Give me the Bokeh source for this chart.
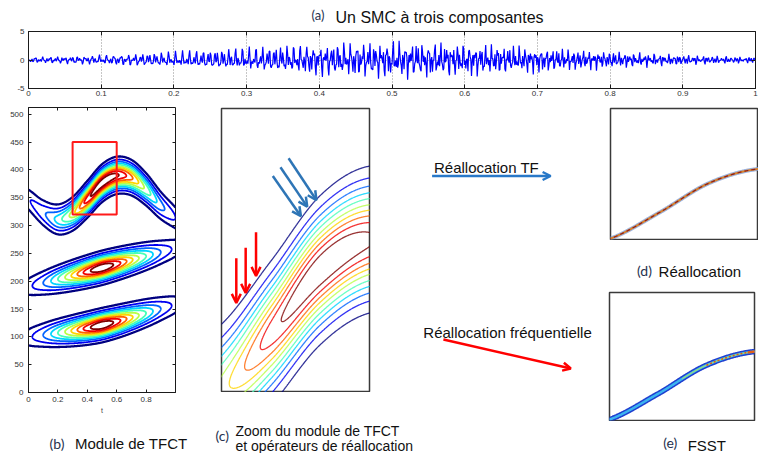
import numpy as np
import contourpy
from bokeh.plotting import figure
from bokeh.layouts import column, row
from bokeh.models import (Range1d, FixedTicker, NumeralTickFormatter, LinearAxis,
                          Arrow, OpenHead, ColumnDataSource, CustomJSTickFormatter)
from bokeh.core.properties import value
from bokeh.embed import file_html
from bokeh.resources import INLINE

# ------------------------------------------------------------------ data
# instantaneous frequency (Hz) of the three modes
grid_t    = [0.0, 0.1, 0.2, 0.3, 0.4, 0.5, 0.6, 0.7, 0.8, 0.9, 1.0]
ridge_top = [347, 323, 311, 321, 347, 376, 390, 386, 365, 336, 314]
chirp_t   = [0.0, 0.5, 1.0]
ridge_mid = [190, 224, 259]
ridge_low = [99, 121, 158]
amp_top   = [0.17, 0.25, 0.40, 0.60, 0.87, 1.00, 0.93, 0.75, 0.52, 0.31, 0.18]
amp_chirp = [0.15, 0.27, 0.45, 0.66, 0.87, 1.00, 0.87, 0.66, 0.45, 0.27, 0.15]
band_hz   = [22, 20, 20]
peak_amp  = 1.25
fs = 1024
levels = [0.09, 0.18, 0.27, 0.36, 0.45, 0.55, 0.64, 0.73, 0.82, 0.91]
level_colors = ["#000080", "#0000f1", "#0063ff", "#00d4ff", "#47ffb8",
                "#b8ff47", "#ffd400", "#ff6300", "#f10000", "#800000"]
zoom_box = [0.3, 0.6, 320, 450]          # t0, t1, f0, f1 (red box / panels c-e)
a_xticks = [0, 0.1, 0.2, 0.3, 0.4, 0.5, 0.6, 0.7, 0.8, 0.9, 1.0]
a_yticks = [-5, 0, 5]
b_xticks = [0, 0.2, 0.4, 0.6, 0.8]
b_yticks = [0, 50, 100, 150, 200, 250, 300, 350, 400, 450, 500]
# arrows drawn on panel (c): (t_start, f_start, t_end, f_end)
blue_arrows = [(0.404, 419.1, 0.461, 400.7),
               (0.4195, 423.1, 0.4738, 405.1),
               (0.436, 427.2, 0.4925, 408.0)]
red_arrows = [(0.330, 381.5, 0.330, 361.0),
              (0.349, 386.3, 0.349, 365.6),
              (0.370, 393.3, 0.370, 373.4)]

FONT = "Liberation Sans"
LBL_FONT = "Lato"
LBL_COLOR = "#26324f"
TXT = "#111111"


def smooth(xs, ys, xq):
    """Catmull-Rom curve through the read points."""
    xs = np.asarray(xs, float); ys = np.asarray(ys, float)
    xq = np.asarray(xq, float)
    h = xs[1] - xs[0]
    ext = np.concatenate([[2 * ys[0] - ys[1]], ys, [2 * ys[-1] - ys[-2]]])
    pos = np.clip((xq - xs[0]) / h, 0, len(xs) - 1 - 1e-9)
    i = np.floor(pos).astype(int)
    u = pos - i
    p0, p1, p2, p3 = ext[i], ext[i + 1], ext[i + 2], ext[i + 3]
    return 0.5 * (2 * p1 + (p2 - p0) * u + (2 * p0 - 5 * p1 + 4 * p2 - p3) * u ** 2
                  + (3 * p1 - p0 - 3 * p2 + p3) * u ** 3)


modes = [(grid_t, ridge_top, amp_top), (chirp_t, ridge_mid, amp_chirp),
         (chirp_t, ridge_low, amp_chirp)]

# signal of panel (a)
t_sig = np.arange(fs) / fs
sig = np.zeros_like(t_sig)
for rt, rf, amp in modes:
    f_inst = smooth(rt, rf, t_sig)
    a_inst = smooth(grid_t, amp, t_sig)
    sig += peak_amp * a_inst * np.cos(2 * np.pi * np.cumsum(f_inst) / fs)


def field(tg, fg):
    T, F = np.meshgrid(tg, fg)
    Z = np.zeros_like(T)
    for (rt, rf, amp), w in zip(modes, band_hz):
        Z += smooth(grid_t, amp, T) * np.exp(-((F - smooth(rt, rf, T)) / w) ** 2)
    return Z


def contour_source(tg, fg, widths):
    gen = contourpy.contour_generator(tg, fg, field(tg, fg))
    xs, ys, cs, ws = [], [], [], []
    for k, lev in enumerate(levels):
        for seg in gen.lines(lev):
            seg = np.asarray(seg)
            xs.append(seg[:, 0].tolist()); ys.append(seg[:, 1].tolist())
            cs.append(level_colors[k]); ws.append(widths[k])
    return ColumnDataSource(dict(xs=xs, ys=ys, c=cs, w=ws))


def base_fig(w, h, xr, yr, **kw):
    p = figure(width=w, height=h, x_range=Range1d(*xr), y_range=Range1d(*yr),
               output_backend="svg", toolbar_location=None, title=None, **kw)
    p.background_fill_color = "white"
    p.border_fill_color = "white"
    try:
        p.frame_align = False
    except Exception:
        pass
    return p


def bare_fig(w, h, xr, yr, **kw):
    p = base_fig(w, h, xr, yr, x_axis_location=None, y_axis_location=None, **kw)
    p.grid.grid_line_color = None
    return p


def canvas(w, h):
    p = bare_fig(w, h, (0, w), (h, 0), min_border=0)
    p.outline_line_color = None
    return p


def put(p, x, y, s, size, font=FONT, color=TXT):
    p.text(x=[x], y=[y], text=[s], text_font=value(font), text_font_size=f"{size}px",
           text_color=color, text_baseline="middle", text_align="left")


def matlab_axes(p, xt, yt, tick, sx, sy, xlabel=None):
    bottom = p.below[0]
    left = p.left[0]
    for ax, ticks, so in ((bottom, xt, sx), (left, yt, sy)):
        ax.ticker = FixedTicker(ticks=ticks)
        ax.formatter = NumeralTickFormatter(format="0.[0]")
        ax.major_tick_in = tick
        ax.major_tick_out = 0
        ax.minor_tick_in = 0
        ax.minor_tick_out = 0
        ax.major_tick_line_color = "#1a1a1a"
        ax.axis_line_color = "#1a1a1a"
        ax.major_label_text_font = FONT
        ax.major_label_text_font_size = "8px"
        ax.major_label_text_color = "#333333"
        ax.major_label_standoff = so
    if xlabel:
        bottom.axis_label = xlabel
        bottom.axis_label_text_font = FONT
        bottom.axis_label_text_font_size = "7px"
        bottom.axis_label_text_font_style = "normal"
        bottom.axis_label_standoff = 2
    for ticks, place in ((xt, "above"), (yt, "right")):
        ax = LinearAxis(ticker=FixedTicker(ticks=ticks), major_tick_in=tick, major_tick_out=0,
                        minor_tick_in=0, minor_tick_out=0, major_label_standoff=0,
                        major_label_text_font_size="1px", axis_line_color=None,
                        major_tick_line_color="#1a1a1a",
                        formatter=CustomJSTickFormatter(code="return ''"))
        p.add_layout(ax, place)
    p.outline_line_color = "#1a1a1a"
    p.outline_line_width = 1


# ------------------------------------------------------------------ (a)
capA = canvas(758, 28)
put(capA, 311, 14.0, "(a)", 13, LBL_FONT, LBL_COLOR)
put(capA, 335, 16.9, "Un SMC à trois composantes", 16)

figA = base_fig(758, 72, (0, 1), (-5, 5), min_border_left=28, min_border_right=3,
                min_border_top=3, min_border_bottom=12)
matlab_axes(figA, a_xticks, a_yticks, 4, 2, 4)
figA.xgrid.ticker = FixedTicker(ticks=a_xticks)
figA.ygrid.ticker = FixedTicker(ticks=a_yticks)
figA.grid.grid_line_color = "#8c8c8c"
figA.grid.grid_line_dash = "1 2"
figA.line(t_sig, sig, line_color="#0000ff", line_width=1.2)

# ------------------------------------------------------------------ (b)
figB = base_fig(200, 316, (0, 1), (0, 512), min_border_left=28, min_border_right=25,
                min_border_top=7, min_border_bottom=24)
matlab_axes(figB, b_xticks, b_yticks, 3, 4, 5, xlabel="t")
figB.grid.grid_line_color = None
srcB = contour_source(np.linspace(0, 1, 301), np.linspace(0, 512, 769),
                      [2.3] + [1.8] * 9)
figB.multi_line(xs="xs", ys="ys", line_color="c", line_width="w", source=srcB)
figB.quad(left=[zoom_box[0]], right=[zoom_box[1]], bottom=[zoom_box[2]], top=[zoom_box[3]],
          fill_color=None, line_color="#ff1a1a", line_width=2)

capB = canvas(200, 37)
put(capB, 49, 27.0, "(b)", 14, LBL_FONT, LBL_COLOR)
put(capB, 74.4, 27.3, "Module de TFCT", 15)

# ------------------------------------------------------------------ (c)
figC = bare_fig(218, 292, (zoom_box[0], zoom_box[1]), (zoom_box[2], zoom_box[3]),
                min_border_left=21, min_border_right=49, min_border_top=8, min_border_bottom=0)
figC.outline_line_color = "#3a3a3a"
figC.outline_line_width = 1.5
srcC = contour_source(np.linspace(0.28, 0.62, 341), np.linspace(305, 465, 321), [1.3] * 10)
figC.multi_line(xs="xs", ys="ys", line_color="c", line_width="w", line_alpha=0.8, source=srcC)
for (t0, f0, t1, f1), col in [(a, "#2e75b6") for a in blue_arrows] + [(a, "#ff0000") for a in red_arrows]:
    figC.add_layout(Arrow(end=OpenHead(size=9, line_color=col, line_width=2.5),
                          x_start=t0, y_start=f0, x_end=t1, y_end=f1,
                          line_color=col, line_width=2.5))

capC = canvas(218, 61)
put(capC, 15, 43.0, "(c)", 14, LBL_FONT, LBL_COLOR)
put(capC, 35, 38.3, "Zoom du module de TFCT", 14)
put(capC, 35, 53.3, "et opérateurs de réallocation", 14)

# ------------------------------------------------------------------ middle arrows
mid = canvas(182, 353)
put(mid, 15.5, 67.4, "Réallocation TF", 15)
mid.add_layout(Arrow(end=OpenHead(size=8, line_color="#2878c8", line_width=2.5),
                     x_start=13.6, y_start=75.5, x_end=132.1, y_end=75.5,
                     line_color="#2878c8", line_width=2.5))
put(mid, 4.8, 231.6, "Réallocation fréquentielle", 15)
mid.add_layout(Arrow(end=OpenHead(size=8, line_color="#ff0000", line_width=2.5),
                     x_start=24.9, y_start=239.0, x_end=152.3, y_end=268.0,
                     line_color="#ff0000", line_width=2.5))

# ------------------------------------------------------------------ (d) and (e)
t_r = np.linspace(0.28, 0.62, 240)
f_r = smooth(grid_t, ridge_top, t_r)

figD = bare_fig(158, 140, (zoom_box[0], zoom_box[1]), (zoom_box[2], zoom_box[3]),
                min_border_left=10, min_border_right=0, min_border_top=8, min_border_bottom=1)
figD.outline_line_color = "#3a3a3a"
figD.outline_line_width = 1.5
figD.line(t_r, f_r, line_color="#7f9fd8", line_width=4, line_alpha=0.8)
figD.line(t_r, f_r, line_color="#d9822b", line_width=2)
figD.line(t_r, f_r, line_color="#8b1e1e", line_width=1.2, line_dash="4 3")

capD = canvas(158, 50)
put(capD, 36.5, 29.5, "(d)", 14, LBL_FONT, LBL_COLOR)
put(capD, 58.1, 31.4, "Réallocation", 15)

figE = bare_fig(158, 131, (zoom_box[0], zoom_box[1]), (zoom_box[2], zoom_box[3]),
                min_border_left=9, min_border_right=4, min_border_top=2, min_border_bottom=1)
figE.outline_line_color = "#3a3a3a"
figE.outline_line_width = 1.5
figE.line(t_r, f_r, line_color="#1f3fd0", line_width=5.5)
figE.line(t_r, f_r, line_color="#3cb4f0", line_width=2.5)
m1 = t_r >= 0.45
figE.line(t_r[m1], f_r[m1], line_color="#9be07a", line_width=1.2)
m2 = t_r >= 0.50
figE.line(t_r[m2], f_r[m2], line_color="#e05a1a", line_width=1.6, line_dash="2 2")
m3 = t_r >= 0.585
figE.line(t_r[m3], f_r[m3], line_color="#e0601a", line_width=2.5)

capE = canvas(158, 32)
put(capE, 62.7, 21.4, "(e)", 14, LBL_FONT, LBL_COLOR)
put(capE, 87.2, 24.3, "FSST", 15)

layout = column(capA, figA,
                row(column(figB, capB), column(figC, capC), mid,
                    column(figD, capD, figE, capE)))

open("out.html", "w").write(file_html(layout, INLINE))
